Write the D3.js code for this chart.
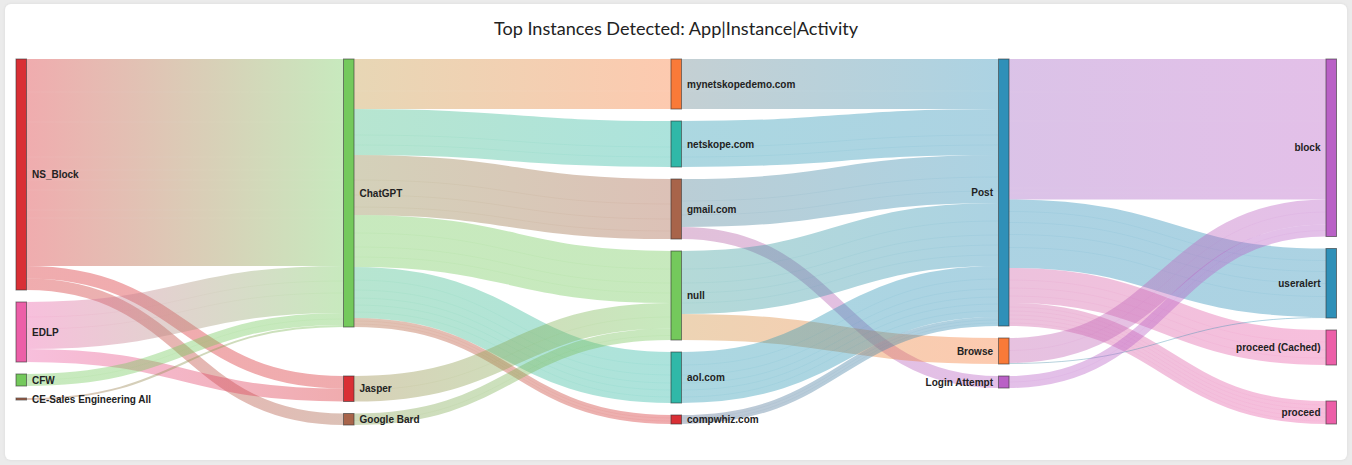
<!DOCTYPE html>
<html>
<head>
<meta charset="utf-8">
<title>Top Instances Detected</title>
<script src="https://cdn.jsdelivr.net/npm/d3@7"></script>
<style>
    html, body { margin: 0; padding: 0; background: #ebebeb; }
    #chart { display: block; }
</style>
</head>
<body>
<svg id="chart" width="1352" height="465"></svg>
<script>
/*global d3*/
(function () {
    'use strict';

    var TITLE = 'Top Instances Detected: App|Instance|Activity',

        // one list per column, top to bottom
        apps = ['NS_Block', 'EDLP', 'CFW', 'CE-Sales Engineering All'],
        products = ['ChatGPT', 'Jasper', 'Google Bard'],
        instances = ['mynetskopedemo.com', 'netskope.com', 'gmail.com', 'null', 'aol.com', 'compwhiz.com'],
        activities = ['Post', 'Browse', 'Login Attempt'],
        actions = ['block', 'useralert', 'proceed (Cached)', 'proceed'],

        linkSources = [
            'NS_Block', 'NS_Block', 'NS_Block', 'EDLP', 'EDLP', 'CFW', 'CE-Sales Engineering All',
            'ChatGPT', 'ChatGPT', 'ChatGPT', 'ChatGPT', 'ChatGPT', 'ChatGPT', 'Jasper', 'Google Bard',
            'mynetskopedemo.com', 'netskope.com', 'gmail.com', 'gmail.com', 'null', 'null', 'aol.com', 'compwhiz.com',
            'Post', 'Post', 'Post', 'Post', 'Browse', 'Browse', 'Login Attempt'
        ],
        linkTargets = [
            'ChatGPT', 'Jasper', 'Google Bard', 'ChatGPT', 'Jasper', 'ChatGPT', 'ChatGPT',
            'mynetskopedemo.com', 'netskope.com', 'gmail.com', 'null', 'aol.com', 'compwhiz.com', 'null', 'null',
            'Post', 'Post', 'Post', 'Login Attempt', 'Post', 'Browse', 'Post', 'Post',
            'block', 'useralert', 'proceed (Cached)', 'proceed', 'block', 'useralert', 'block'
        ],
        // each link is a bundle of smaller flows, which is what leaves the seams
        linkValues = [
            [33, 30, 35, 13, 10, 10, 20, 8, 48], [12.5], [11.5], [15, 12, 20], [13], [6, 6], [2],
            [32, 18], [26, 10, 10], [25, 15, 12, 8], [18, 14, 10, 10], [13, 10, 8, 7, 7, 6], [3, 3, 3], [14, 11.5], [7, 4.5],
            [32, 18], [26, 10, 10], [22, 14, 12], [12], [18, 14, 10, 10, 11], [26], [13, 10, 8, 7, 7, 6], [3, 3, 3],
            [33, 29, 67, 5, 6.5], [12, 11, 12, 13, 20.5], [12, 8, 8, 7], [4, 4, 4, 4, 4, 3], [12.5, 12.5], [1], [6, 6]
        ],

        RED = '#d92f35',
        PINK = '#ec5fa8',
        GREEN = '#74c95c',
        BROWN = '#a8644a',
        ORANGE = '#f97a38',
        TEAL = '#30b8a8',
        BLUE = '#2f90b8',
        PURPLE = '#b961c6',

        nodeColors = {
            'NS_Block': RED,
            'EDLP': PINK,
            'CFW': GREEN,
            'CE-Sales Engineering All': BROWN,
            'ChatGPT': GREEN,
            'Jasper': RED,
            'Google Bard': BROWN,
            'mynetskopedemo.com': ORANGE,
            'netskope.com': TEAL,
            'gmail.com': BROWN,
            'null': GREEN,
            'aol.com': TEAL,
            'compwhiz.com': RED,
            'Post': BLUE,
            'Browse': ORANGE,
            'Login Attempt': PURPLE,
            'block': PURPLE,
            'useralert': BLUE,
            'proceed (Cached)': PINK,
            'proceed': PINK
        },

        WIDTH = 1352,
        HEIGHT = 465,
        TOP = 59,
        NODE_WIDTH = 10.5,
        NODE_PADDING = 12,
        LINK_OPACITY = 0.4,
        // the layout pushed these nodes further down than the plain padding
        extraGap = { 'Jasper': 37, 'proceed': 24 },
        // how far the start of a link has already moved to the target colour, by column
        gradientStart = [0, 0.6, 0.7, 0.85],

        columns = [apps, products, instances, activities, actions],
        svg = d3.select('#chart'),
        nodes = {},
        links = [],
        x,
        y,
        defs,
        path;

    function inValue(name) {
        return d3.sum(links, function (l) { return l.target === name ? l.value : 0; });
    }

    function outValue(name) {
        return d3.sum(links, function (l) { return l.source === name ? l.value : 0; });
    }

    linkSources.forEach(function (source, i) {
        links.push({
            id: i,
            source: source,
            target: linkTargets[i],
            parts: linkValues[i],
            value: d3.sum(linkValues[i])
        });
    });

    x = d3.scalePoint().domain(d3.range(columns.length)).range([16, 1326]);
    y = d3.scaleLinear()
        .domain([0, d3.sum(apps, outValue)])
        .range([0, 305]);

    columns.forEach(function (column, c) {
        var top = TOP;

        column.forEach(function (name) {
            var value = Math.max(inValue(name), outValue(name));

            top += extraGap[name] || 0;
            nodes[name] = {
                name: name,
                column: c,
                x0: x(c),
                x1: x(c) + NODE_WIDTH,
                y0: top,
                y1: top + y(value),
                outY: top,
                inY: top
            };
            top = nodes[name].y1 + NODE_PADDING;
        });
    });

    // card
    svg.append('defs').append('filter')
        .attr('id', 'card-shadow')
        .attr('x', '-2%').attr('y', '-2%')
        .attr('width', '104%').attr('height', '104%')
        .append('feDropShadow')
        .attr('dx', 0).attr('dy', 0)
        .attr('stdDeviation', 1.5)
        .attr('flood-color', '#000')
        .attr('flood-opacity', 0.08);

    svg.append('rect')
        .attr('x', 5).attr('y', 4)
        .attr('width', WIDTH - 10).attr('height', HEIGHT - 9)
        .attr('rx', 6).attr('ry', 6)
        .attr('fill', '#fff')
        .attr('filter', 'url(#card-shadow)');

    svg.append('text')
        .attr('x', WIDTH / 2)
        .attr('y', 35)
        .attr('text-anchor', 'middle')
        .attr('font-family', 'Lato, sans-serif')
        .attr('font-size', 18.1)
        .attr('fill', '#222')
        .text(TITLE);

    // links
    defs = svg.select('defs');
    path = d3.linkHorizontal();

    links.forEach(function (link) {
        var source = nodes[link.source],
            target = nodes[link.target],
            mix = d3.interpolateRgb(nodeColors[link.source], nodeColors[link.target]),
            thickness = y(link.value),
            flat = Math.abs(source.outY - target.inY) < 0.5,
            offset = 0,
            gradient = defs.append('linearGradient')
                .attr('id', 'link-' + link.id)
                .attr('gradientUnits', 'userSpaceOnUse')
                .attr('x1', source.x1)
                .attr('x2', target.x0)
                .attr('y1', 0)
                .attr('y2', 0);

        gradient.append('stop')
            .attr('offset', '0%')
            .attr('stop-color', mix(gradientStart[source.column]));
        gradient.append('stop')
            .attr('offset', '100%')
            .attr('stop-color', nodeColors[link.target]);

        svg.append('path')
            .attr('d', path({
                source: [source.x1, source.outY + thickness / 2],
                target: [target.x0, target.inY + thickness / 2]
            }))
            .attr('fill', 'none')
            .attr('stroke', 'url(#link-' + link.id + ')')
            .attr('stroke-width', thickness)
            .attr('stroke-opacity', LINK_OPACITY);

        // seams between the flows inside the bundle
        link.parts.slice(0, -1).forEach(function (part) {
            offset += y(part);

            svg.append('path')
                .attr('d', path({
                    source: [source.x1, source.outY + offset],
                    target: [target.x0, target.inY + offset]
                }))
                .attr('fill', 'none')
                .attr('stroke', flat ? '#fff' : 'url(#link-' + link.id + ')')
                .attr('stroke-width', 0.4)
                .attr('stroke-opacity', flat ? 0.15 : 0.18);
        });

        source.outY += thickness;
        target.inY += thickness;
    });

    // nodes
    Object.keys(nodes).forEach(function (name) {
        var node = nodes[name],
            onRight = node.column > 2;

        svg.append('rect')
            .attr('x', node.x0)
            .attr('y', node.y0)
            .attr('width', node.x1 - node.x0)
            .attr('height', node.y1 - node.y0)
            .attr('fill', nodeColors[name])
            .attr('stroke', '#333')
            .attr('stroke-opacity', 0.6)
            .attr('stroke-width', 1);

        svg.append('text')
            .attr('x', onRight ? node.x0 - 5.5 : node.x1 + 5.5)
            .attr('y', (node.y0 + node.y1) / 2)
            .attr('dy', '0.35em')
            .attr('text-anchor', onRight ? 'end' : 'start')
            .attr('font-family', '"Liberation Sans", Arial, sans-serif')
            .attr('font-size', 10)
            .attr('font-weight', 'bold')
            .attr('fill', '#222')
            .text(name);
    });
}());
</script>
</body>
</html>
